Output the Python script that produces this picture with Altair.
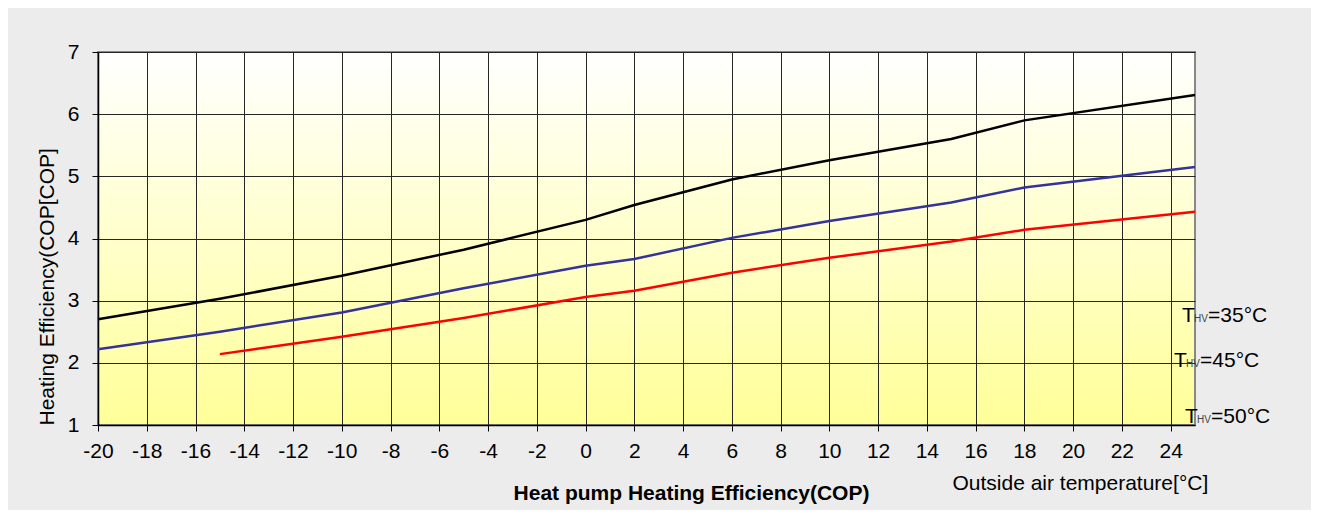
import altair as alt
import pandas as pd

# ---- data ----
temps = [-20, -15, -10, -5, 0, 2, 6, 10, 15, 18, 25]
cop_35 = [2.70, 3.03, 3.40, 3.82, 4.30, 4.54, 4.95, 5.26, 5.60, 5.90, 6.31]
cop_45 = [2.22, 2.50, 2.81, 3.20, 3.56, 3.67, 4.01, 4.28, 4.58, 4.82, 5.15]
cop_50 = [None, 2.14, 2.42, 2.72, 3.06, 3.16, 3.45, 3.69, 3.95, 4.14, 4.43]

series_names = ["35", "45", "50"]
series_colors = ["#000000", "#333399", "#ff0000"]

x_grid_values = list(range(-20, 26))
y_grid_values = [1 + 0.5 * i for i in range(13)]

rows = []
for name, vals in zip(series_names, [cop_35, cop_45, cop_50]):
    for t, v in zip(temps, vals):
        if v is not None:
            rows.append({"temp": t, "cop": v, "series": name})
df = pd.DataFrame(rows)

# annotation labels (T_HV = ...)
label_text = ["=35°C", "=45°C", "=50°C"]
label_x = [24.47, 24.14, 24.59]
label_y = [2.662, 1.928, 1.037]
ann = pd.DataFrame({"rest": label_text, "x": label_x, "y": label_y,
                    "T": ["T"] * 3, "sub": ["HV"] * 3})

FONT = "Liberation Sans"
GRID = "#262626"

x_scale = alt.Scale(domain=[-20, 25], nice=False, zero=False)
y_scale = alt.Scale(domain=[1, 7], nice=False, zero=False)

x_axis = alt.Axis(
    values=x_grid_values,
    labelExpr="datum.value % 2 == 0 && datum.value < 25 ? '' + datum.value : ''",
    tickOpacity={"condition": {"test": "datum.value % 2 == 0 && datum.value < 25", "value": 1}, "value": 0},
    grid=True, gridColor=GRID, gridWidth=1, gridOpacity=1,
    tickSize=6, tickColor="#000000", tickWidth=1,
    domainColor="#000000", domainWidth=1.5,
    labelFont=FONT, labelFontSize=21, labelColor="#000000", labelPadding=9,
    labelFlush=False, labelOverlap=False,
    title="Heat pump Heating Efficiency(COP)",
    titleFont=FONT, titleFontSize=21, titleFontWeight="bold", titleColor="#000000",
    titleX=593, titleY=74, titleAlign="center", titleBaseline="alphabetic",
)

y_axis = alt.Axis(
    values=y_grid_values,
    labelExpr="datum.value % 1 == 0 ? '' + datum.value : ''",
    tickOpacity={"condition": {"test": "datum.value % 1 == 0", "value": 1}, "value": 0},
    grid=True, gridColor=GRID, gridWidth=1, gridOpacity=1,
    tickSize=6, tickColor="#000000", tickWidth=1,
    domainColor="#000000", domainWidth=1.5,
    labelFont=FONT, labelFontSize=21, labelColor="#000000", labelPadding=13,
    labelFlush=False, labelOverlap=False,
    title="Heating Efficiency(COP[COP]",
    titleFont=FONT, titleFontSize=21, titleFontWeight="normal", titleColor="#000000",
    titleAngle=270, titleX=-45, titleY=373, titleAlign="left", titleBaseline="alphabetic",
)

lines = alt.Chart(df).mark_line(strokeWidth=2.5).encode(
    x=alt.X("temp:Q", scale=x_scale, axis=x_axis),
    y=alt.Y("cop:Q", scale=y_scale, axis=y_axis),
    color=alt.Color("series:N", scale=alt.Scale(domain=series_names, range=series_colors), legend=None),
)

t_big = alt.Chart(ann).mark_text(font=FONT, fontSize=21, align="left", baseline="alphabetic", color="#000000").encode(
    x=alt.X("x:Q", scale=x_scale), y=alt.Y("y:Q", scale=y_scale), text="T:N")
t_sub = alt.Chart(ann).mark_text(font=FONT, fontSize=10, align="left", baseline="alphabetic", color="#444444", dx=12).encode(
    x=alt.X("x:Q", scale=x_scale), y=alt.Y("y:Q", scale=y_scale), text="sub:N")
t_rest = alt.Chart(ann).mark_text(font=FONT, fontSize=21, align="left", baseline="alphabetic", color="#000000", dx=26).encode(
    x=alt.X("x:Q", scale=x_scale), y=alt.Y("y:Q", scale=y_scale), text="rest:N")

outside = alt.Chart(pd.DataFrame({"txt": ["Outside air temperature[°C]"], "x": [15.05], "y": [-0.05]})).mark_text(
    font=FONT, fontSize=21, align="left", baseline="alphabetic", color="#000000").encode(
    x=alt.X("x:Q", scale=x_scale), y=alt.Y("y:Q", scale=y_scale), text="txt:N")

chart = alt.layer(lines, t_big, t_sub, t_rest, outside).properties(
    width=1097, height=373,
    autosize=alt.AutoSizeParams(type="none"),
    padding={"left": 90, "top": 44, "right": 116, "bottom": 85},
    background="#ececec",
).configure_view(
    stroke="#888888", strokeWidth=2,
    fill={"expr": "{gradient: 'linear', x1: 0, y1: 0, x2: 0, y2: 1, stops: [{offset: 0, color: '#ffffff'}, {offset: 1, color: '#ffff99'}]}"},
)

chart.save("out.html", embed_options={"renderer": "svg", "actions": False})
